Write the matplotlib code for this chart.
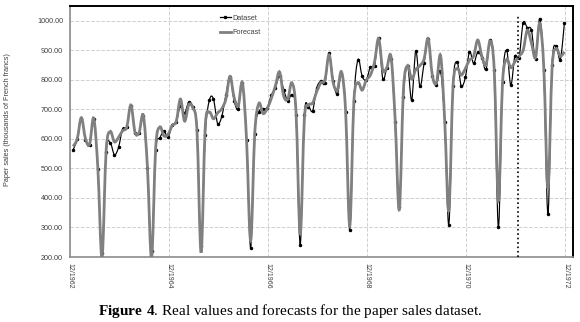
import matplotlib
matplotlib.use("Agg")
import matplotlib.pyplot as plt
import numpy as np
from matplotlib.path import Path
from matplotlib.patches import PathPatch

plt.rcParams['mathtext.fontset'] = 'custom'
plt.rcParams['mathtext.rm'] = 'Liberation Serif'
plt.rcParams['mathtext.bf'] = 'Liberation Serif:bold'

# monthly paper sales, Jan 1963 .. Dec 1972 (thousands of French francs)
dataset = [
    562.674, 599.000, 668.516, 597.798, 579.889, 668.233, 499.232, 215.187, 555.813, 586.935, 546.136, 571.111,
    634.712, 639.283, 712.182, 621.557, 621.000, 675.989, 501.322, 220.286, 560.727, 602.530, 626.379, 605.508,
    646.783, 658.442, 712.906, 687.714, 723.916, 707.183, 629.000, 237.530, 613.296, 730.444, 734.925, 651.812,
    676.155, 748.183, 810.681, 729.363, 701.108, 790.079, 594.621, 230.716, 617.189, 691.389, 701.067, 705.777,
    747.636, 773.392, 813.788, 766.713, 728.875, 749.197, 680.954, 241.424, 680.234, 708.326, 694.238, 772.071,
    795.337, 788.421, 889.968, 797.393, 751.000, 821.255, 691.605, 290.655, 727.147, 868.355, 812.390, 799.556,
    843.038, 847.000, 941.952, 804.309, 840.307, 871.528, 656.330, 370.508, 742.000, 847.152, 731.675, 898.527,
    778.139, 856.075, 938.833, 813.023, 783.417, 828.110, 657.311, 310.032, 780.000, 860.000, 780.000, 807.993,
    895.217, 856.075, 893.268, 875.000, 835.088, 934.595, 832.500, 300.000, 791.443, 900.000, 781.729, 880.000,
    875.024, 992.968, 976.804, 968.697, 871.675, 1006.852, 832.037, 345.587, 849.528, 913.871, 868.746, 993.733,
]

# forecast values
forecast = [
    575, 600, 672, 600, 582, 670, 500, 198, 560, 625, 590, 605,
    628, 640, 715, 622, 622, 680, 505, 196, 570, 640, 610, 615,
    645, 660, 735, 660, 715, 705, 630, 215, 640, 690, 668, 688,
    702, 735, 812, 740, 712, 790, 600, 255, 620, 720, 686, 702,
    737, 780, 827, 745, 735, 790, 690, 275, 665, 714, 721, 760,
    790, 800, 885, 790, 765, 827, 695, 305, 726, 790, 765, 799,
    816, 860, 940, 833, 842, 878, 665, 360, 765, 848, 802, 835,
    848, 870, 940, 815, 790, 882, 662, 355, 776, 838, 816, 838,
    867, 880, 935, 880, 850, 932, 832, 390, 790, 869, 841, 861,
    880, 900, 968, 925, 875, 992, 841, 432, 840, 905, 880, 895,
]

tick_labels = ["12/1962", "12/1964", "12/1966", "12/1968", "12/1970", "12/1972"]
y_ticks = [200, 300, 400, 500, 600, 700, 800, 900, 1000]
split_month = 107.75  # start of the test period (end of 1971)


# smoothed line through the points, like a spreadsheet "smoothed line"
def smooth_path(x, y):
    pts = np.column_stack([x, y]).astype(float)
    verts = [pts[0]]
    codes = [Path.MOVETO]
    n = len(pts)
    for i in range(n - 1):
        p0 = pts[max(i - 1, 0)]
        p1 = pts[i]
        p2 = pts[i + 1]
        p3 = pts[min(i + 2, n - 1)]
        verts += [p1 + (p2 - p0) / 6, p2 - (p3 - p1) / 6, p2]
        codes += [Path.CURVE4] * 3
    return Path(verts, codes)


months = np.arange(len(dataset))
tick_pos = [-0.75 + 24 * k for k in range(len(tick_labels))]

fig = plt.figure(figsize=(5.8, 3.22), dpi=100)
ax = fig.add_axes([70 / 580, 1 - 257 / 322, 503 / 580, 251 / 322])

ax.add_patch(PathPatch(smooth_path(months, dataset), facecolor="none",
                       edgecolor="black", linewidth=0.85, zorder=3))
ax.plot(months, dataset, linestyle="none", marker="o", markersize=1.5,
        color="black", zorder=3)
ax.add_patch(PathPatch(smooth_path(months, forecast), facecolor="none",
                       edgecolor="#808080", linewidth=2.0, zorder=4))
ax.plot([split_month, split_month], [200, 1015], color="black", linestyle=":",
        linewidth=1.2, zorder=5)

# legend handles
ax.plot([], [], color="black", linewidth=0.9, marker="o", markersize=1.5,
        markevery=[1], label="Dataset")
ax.plot([], [], color="#808080", linewidth=2.0, label="Forecast")

ax.set_xlim(-0.75, 121.07)
ax.set_ylim(200, 1050)
ax.set_xticks(tick_pos)
ax.set_xticklabels(tick_labels, rotation=-90, fontsize=5, color="#404040",
                   family="Liberation Sans")
ax.set_yticks(y_ticks)
ax.set_yticklabels(["%.2f" % v for v in y_ticks], fontsize=5.2, color="#404040",
                   family="Liberation Sans")
ax.tick_params(axis="both", length=0)
ax.tick_params(axis="y", pad=5)
ax.tick_params(axis="x", pad=4)

ax.grid(color="#d0d0d0", linestyle="--", linewidth=0.7)
ax.set_axisbelow(True)

for side in ["left", "bottom"]:
    ax.spines[side].set_color("#8c8c8c")
    ax.spines[side].set_linewidth(1.2)
for side in ["top", "right"]:
    ax.spines[side].set_color("black")
    ax.spines[side].set_linewidth(1.4)

leg = ax.legend(loc="upper left", bbox_to_anchor=(0.298, 0.965), frameon=False,
                handlelength=1.5, handletextpad=0.2, labelspacing=1.0,
                borderpad=0, borderaxespad=0,
                prop={"family": "Liberation Sans", "size": 5.2})
for t in leg.get_texts():
    t.set_color("#404040")

fig.text(8 / 580, 1 - 120 / 322, "Paper sales (thousands of French francs)",
         rotation=90, ha="center", va="center", fontsize=5.2, color="#404040",
         family="Liberation Sans")

fig.text(290 / 580, 1 - 311 / 322,
         r"$\mathbf{Figure\ 4}$. Real values and forecasts for the paper sales dataset.",
         ha="center", va="center", fontsize=11.0, family="Liberation Serif")

fig.savefig("out.png", dpi=100)
